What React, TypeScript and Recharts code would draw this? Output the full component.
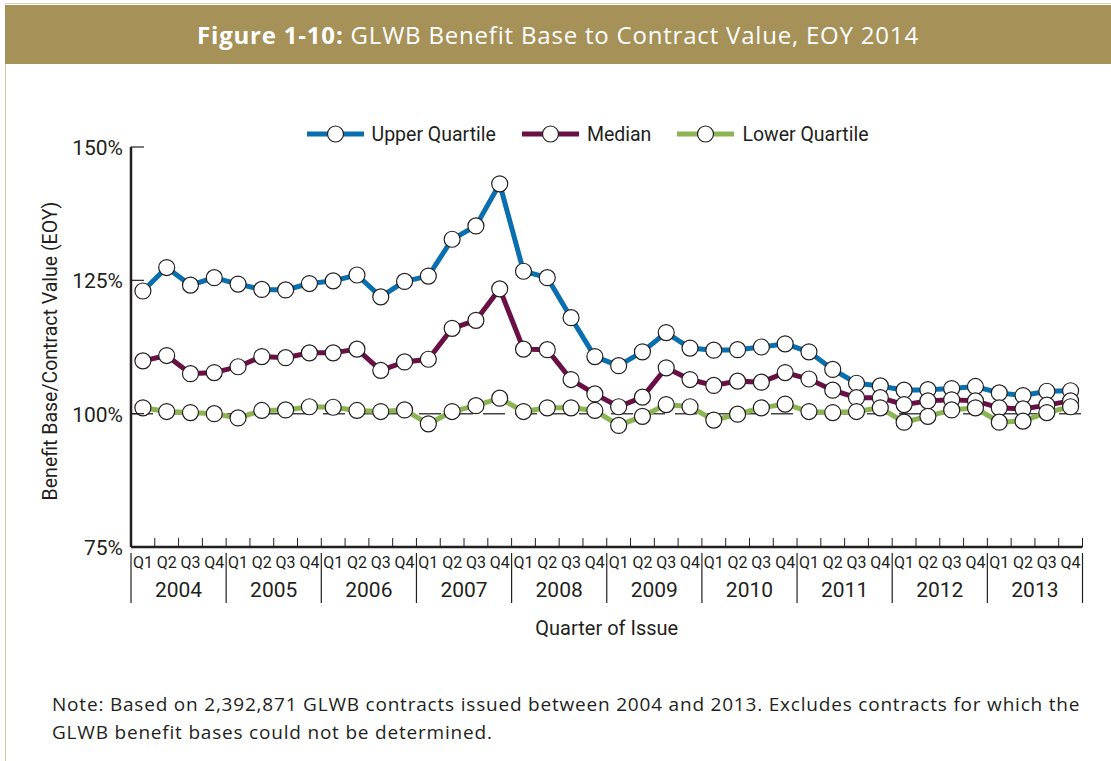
import React from "react";
import { LineChart, Line, XAxis, YAxis, ReferenceLine } from "recharts";

const years = ["2004", "2005", "2006", "2007", "2008", "2009", "2010", "2011", "2012", "2013"];
const quarters = ["Q1", "Q2", "Q3", "Q4"];

const upperQuartile = [
  123.0, 127.4, 124.1, 125.5, 124.3, 123.3, 123.2, 124.4, 124.9, 126.0,
  121.9, 124.8, 125.8, 132.7, 135.2, 143.1, 126.7, 125.5, 118.0, 110.7,
  109.0, 111.6, 115.2, 112.3, 111.9, 112.0, 112.5, 113.1, 111.6, 108.3,
  105.7, 105.2, 104.4, 104.5, 104.7, 105.1, 103.9, 103.4, 104.2, 104.3,
];
const median = [
  109.9, 110.9, 107.5, 107.7, 108.8, 110.7, 110.5, 111.4, 111.4, 112.1,
  108.1, 109.7, 110.2, 116.0, 117.5, 123.4, 112.1, 112.0, 106.4, 103.7,
  101.3, 103.1, 108.6, 106.4, 105.3, 106.1, 105.9, 107.7, 106.5, 104.4,
  103.0, 103.0, 101.7, 102.4, 102.6, 102.4, 101.1, 100.9, 101.6, 102.4,
];
const lowerQuartile = [
  101.1, 100.4, 100.2, 100.0, 99.2, 100.6, 100.7, 101.3, 101.2, 100.6,
  100.4, 100.7, 98.1, 100.4, 101.5, 102.9, 100.4, 101.1, 101.1, 100.6,
  97.8, 99.5, 101.7, 101.3, 98.8, 99.9, 101.1, 101.8, 100.4, 100.2,
  100.4, 101.1, 98.4, 99.5, 100.7, 101.1, 98.4, 98.6, 100.2, 101.3,
];
const yTicks = [75, 100, 125, 150];

const series = [
  { key: "upper", name: "Upper Quartile", color: "#0a6fae" },
  { key: "median", name: "Median", color: "#6b1044" },
  { key: "lower", name: "Lower Quartile", color: "#8cb453" },
];

const data = years.flatMap((y, yi) =>
  quarters.map((q, qi) => {
    const i = yi * 4 + qi;
    return { key: `${y} ${q}`, upper: upperQuartile[i], median: median[i], lower: lowerQuartile[i] };
  })
);

const COND = "Roboto, sans-serif";
const BODY = "'Open Sans', Lato, sans-serif";
const INK = "#231f20";

const W = 1111;
const H = 761;
const PLOT_LEFT = 131;
const PLOT_RIGHT = 1082.5;
const BAND = (PLOT_RIGHT - PLOT_LEFT) / data.length;

function QuarterTick({ x, y, payload, index }: any) {
  const [yr, q] = String(payload.value).split(" ");
  const last = index === data.length - 1;
  return (
    <g>
      <line x1={x + BAND / 2} x2={x + BAND / 2} y1={y - 9} y2={y} stroke={INK} strokeWidth={1} />
      <text x={x} y={y + 21} textAnchor="middle" fontSize={16} fontFamily={COND} fill={INK}>{q}</text>
      {q === "Q1" && <line x1={x - BAND / 2} x2={x - BAND / 2} y1={y + 6} y2={y + 56} stroke={INK} strokeWidth={1.2} />}
      {last && <line x1={x + BAND / 2} x2={x + BAND / 2} y1={y + 6} y2={y + 56} stroke={INK} strokeWidth={1.2} />}
      {q === "Q2" && (
        <text x={x + BAND / 2} y={y + 50} textAnchor="middle" fontSize={21} fontFamily={COND} fill={INK}>{yr}</text>
      )}
    </g>
  );
}

function PctTick({ x, y, payload }: any) {
  return (
    <g>
      {payload.value !== 75 && <line x1={x} x2={x + 13} y1={y} y2={y} stroke={INK} strokeWidth={1.2} />}
      <text x={x - 8} y={y + 8} textAnchor="end" fontSize={21} fontFamily={COND} fill={INK}>{`${payload.value}%`}</text>
    </g>
  );
}

function Legend() {
  return (
    <div style={{ position: "absolute", top: 121, left: 0, width: W, display: "flex", justifyContent: "center", paddingLeft: 64, boxSizing: "border-box" }}>
      {series.map((s, i) => (
        <div key={s.key} style={{ display: "flex", alignItems: "center", marginLeft: i === 0 ? 0 : 26 }}>
          <svg width={57} height={26}>
            <line x1={0} x2={57} y1={13} y2={13} stroke={s.color} strokeWidth={5} />
            <circle cx={28.5} cy={13} r={8} fill="#fff" stroke={INK} strokeWidth={1.2} />
          </svg>
          <span style={{ fontFamily: COND, fontSize: 19.5, color: INK, marginLeft: 8 }}>{s.name}</span>
        </div>
      ))}
    </div>
  );
}

export default function App() {
  return (
    <div style={{ position: "absolute", left: 0, top: 0, width: W, height: H, background: "#fff", overflow: "hidden" }}>
      <div style={{ position: "absolute", left: 5, top: 3, right: 0, height: 1, background: "#d8cfb4" }} />
      <div style={{ position: "absolute", left: 5, top: 5, bottom: 0, width: 1, background: "#cdc3a3" }} />
      <div style={{ position: "absolute", left: 5, top: 5, right: 0, height: 59, background: "#a69159", color: "#fff",
        display: "flex", alignItems: "center", justifyContent: "center", fontFamily: BODY, fontSize: 24, letterSpacing: 0.8 }}>
        <span><b>Figure 1-10:</b> GLWB Benefit Base to Contract Value, EOY 2014</span>
      </div>
      <Legend />
      <div style={{ position: "absolute", left: 0, top: 0 }}>
        <LineChart width={W} height={H} data={data} margin={{ top: 147, right: W - PLOT_RIGHT, bottom: 154, left: 71 }}>
          <XAxis dataKey="key" interval={0} tickLine={false} tickSize={0} tickMargin={0} height={60}
            padding={{ left: BAND / 2, right: BAND / 2 }}
            axisLine={{ stroke: INK, strokeWidth: 2.5 }} tick={<QuarterTick />}
            label={{ content: ({ viewBox }: any) => (
              <text x={viewBox.x + viewBox.width / 2} y={viewBox.y + 88} textAnchor="middle" fontSize={20} fontFamily={COND} fill={INK}>Quarter of Issue</text>
            ) }} />
          <YAxis type="number" domain={[75, 150]} ticks={yTicks} width={60} tickLine={false} tickSize={0} tickMargin={0}
            axisLine={{ stroke: INK, strokeWidth: 2.5 }} tick={<PctTick />}
            label={{ content: ({ viewBox }: any) => (
              <text x={viewBox.x - 14} y={viewBox.y + viewBox.height / 2 + 4} transform={`rotate(-90 ${viewBox.x - 14} ${viewBox.y + viewBox.height / 2 + 4})`}
                textAnchor="middle" fontSize={19.5} fontFamily={COND} fill={INK}>Benefit Base/Contract Value (EOY)</text>
            ) }} />
          <ReferenceLine y={100} stroke="#444" strokeWidth={1.5} strokeDasharray="22 10" />
          {series.map(s => (
            <Line key={s.key} dataKey={s.key} name={s.name} stroke={s.color} strokeWidth={5} isAnimationActive={false}
              dot={{ r: 8, fill: "#fff", stroke: INK, strokeWidth: 1.2 }} activeDot={false} />
          ))}
        </LineChart>
      </div>
      <div style={{ position: "absolute", left: 52, top: 690, fontFamily: BODY, fontSize: 19, letterSpacing: 0.8, color: INK, lineHeight: "28px", whiteSpace: "nowrap" }}>
        Note: Based on 2,392,871 GLWB contracts issued between 2004 and 2013. Excludes contracts for which the<br />
        GLWB benefit bases could not be determined.
      </div>
    </div>
  );
}
